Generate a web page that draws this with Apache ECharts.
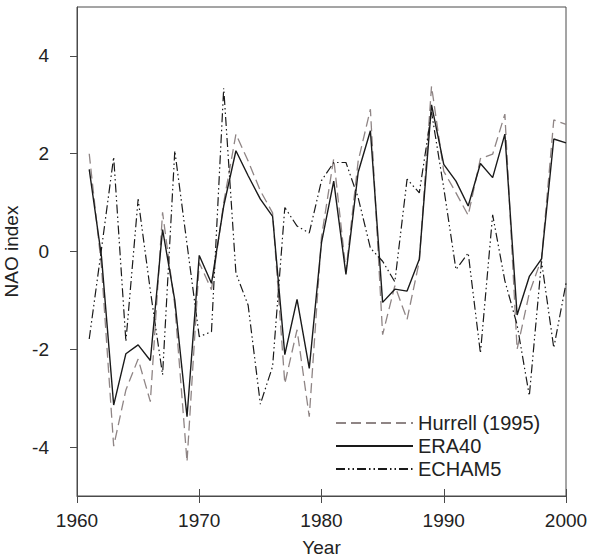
<!DOCTYPE html>
<html lang="en">
<head>
    <meta charset="UTF-8">
    <title>NAO index</title>
    <style>
        html, body { margin: 0; padding: 0; background: #fff; }
        #container { width: 598px; height: 560px; }
    </style>
</head>
<body>
    <div id="container"></div>
    <script type="text/javascript" src="https://cdn.jsdelivr.net/npm/echarts@6/dist/echarts.min.js"></script>
    <script type="text/javascript">
        // data, one value per year 1961..2000
        const years = [];
        for (let y = 1961; y <= 2000; y++) years.push(y);

        const hurrell = [2.0, -0.3, -3.98, -2.83, -2.2, -3.07, 0.8, -1.1, -4.3, -0.23,
            -0.78, 1.0, 2.4, 1.85, 1.24, 0.79, -2.7, -1.6, -3.38, 0.3,
            1.9, -0.4, 1.85, 2.91, -1.7, -0.7, -1.39, -0.2, 3.38, 1.64,
            1.2, 0.74, 1.9, 1.99, 2.81, -2.0, -0.85, -0.15, 2.69, 2.6];
        const era40 = [1.68, -0.1, -3.14, -2.09, -1.91, -2.23, 0.45, -1.0, -3.38, -0.08,
            -0.65, 0.93, 2.06, 1.55, 1.07, 0.72, -2.11, -0.98, -2.39, 0.18,
            1.44, -0.47, 1.62, 2.47, -1.04, -0.77, -0.81, -0.16, 3.0, 1.78,
            1.44, 0.93, 1.8, 1.51, 2.4, -1.3, -0.51, -0.15, 2.3, 2.22];
        const echam5 = [-1.79, 0.05, 1.93, -1.84, 1.07, -0.8, -2.52, 2.06, 0.15, -1.74,
            -1.64, 3.34, -0.44, -1.1, -3.12, -2.35, 0.9, 0.52, 0.38, 1.45,
            1.82, 1.82, 1.1, 0.07, -0.2, -0.62, 1.48, 1.2, 2.85, 1.3,
            -0.37, -0.03, -2.08, 0.75, -0.6, -1.5, -2.95, -0.2, -1.97, -0.65];

        const seriesNames = ['Hurrell (1995)', 'ERA40', 'ECHAM5'];
        const xTicks = [1960, 1970, 1980, 1990, 2000];
        const yTicks = [-4, -2, 0, 2, 4];

        const pairs = vals => vals.map((v, i) => [years[i], v]);
        const font = 'Liberation Sans, Arial, sans-serif';
        const frame = '#4a4a4a';

        const option = {
            animation: false,
            backgroundColor: '#fff',
            grid: {
                left: 77, right: 32, top: 7, bottom: 64,
                outerBoundsMode: 'none',
                show: true, borderColor: frame, borderWidth: 1
            },
            legend: {
                orient: 'vertical',
                left: 335, top: 413, padding: 0,
                itemWidth: 77, itemHeight: 14, itemGap: 3,
                itemStyle: { opacity: 0 },
                textStyle: { fontFamily: font, fontSize: 20, color: '#222', padding: [0, 0, 0, 0] },
                data: seriesNames
            },
            xAxis: [{
                type: 'value', min: 1960, max: 2000, interval: 10,
                name: 'Year', nameLocation: 'middle', nameGap: 42,
                nameTextStyle: { fontFamily: font, fontSize: 19, color: '#222' },
                axisLine: { onZero: false, lineStyle: { color: frame, width: 1 } },
                axisTick: { inside: false, length: 7, customValues: xTicks, lineStyle: { color: frame } },
                axisLabel: { fontFamily: font, fontSize: 19, color: '#222', margin: 15,
                    customValues: xTicks, formatter: v => String(v) },
                splitLine: { show: false }
            }, {
                type: 'value', min: 1960, max: 2000, interval: 10, position: 'bottom',
                axisLine: { show: false, onZero: false },
                axisTick: { inside: true, length: 7, lineStyle: { color: frame } },
                axisLabel: { show: false },
                splitLine: { show: false }
            }],
            yAxis: {
                type: 'value', min: -5, max: 5,
                name: 'NAO index', nameLocation: 'middle', nameGap: 51,
                nameTextStyle: { fontFamily: font, fontSize: 19, color: '#222' },
                axisLine: { show: true, onZero: false, lineStyle: { color: frame, width: 1 } },
                axisTick: { show: true, length: 7, customValues: yTicks, lineStyle: { color: frame } },
                axisLabel: { fontFamily: font, fontSize: 19, color: '#222', margin: 28, customValues: yTicks },
                splitLine: { show: false }
            },
            series: [{
                name: seriesNames[0], type: 'line', symbol: 'none', z: 2,
                data: pairs(hurrell),
                color: '#8f8585',
                lineStyle: { color: '#8f8585', width: 1.3, type: [10, 5] }
            }, {
                name: seriesNames[1], type: 'line', symbol: 'none', z: 3,
                data: pairs(era40),
                color: '#1a1a1a',
                lineStyle: { color: '#1a1a1a', width: 1.4, type: 'solid' }
            }, {
                name: seriesNames[2], type: 'line', symbol: 'none', z: 4,
                data: pairs(echam5),
                color: '#1a1a1a',
                lineStyle: { color: '#1a1a1a', width: 1.2, type: [9, 3, 1.5, 3, 1.5, 3] }
            }]
        };

        var chart = echarts.init(document.getElementById('container'), null, { renderer: 'svg' });
        chart.setOption(option);
    </script>
</body>
</html>
